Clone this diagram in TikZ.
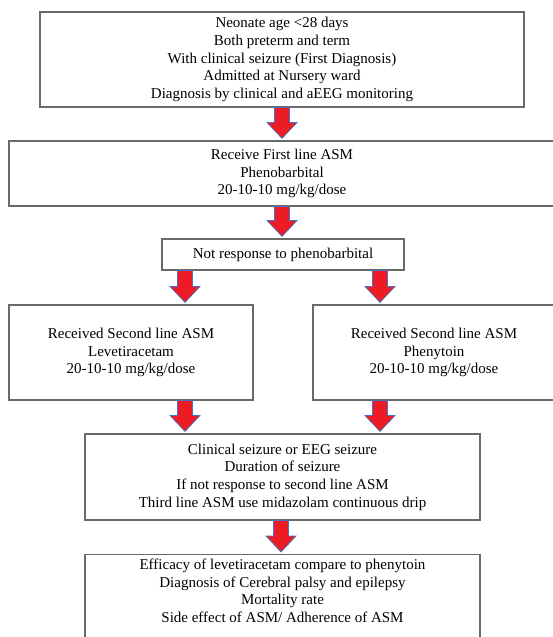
\documentclass[tikz,border=0pt]{standalone}
\usepackage{fontspec}
\setmainfont{Liberation Serif}
\usetikzlibrary{calc}
\definecolor{arrowred}{RGB}{237,28,36}
\definecolor{arrowblue}{RGB}{68,114,196}
\definecolor{boxgray}{RGB}{105,105,105}
\tikzset{
	stepbox/.style={draw=boxgray, line width=1.1pt, align=center, inner sep=0pt, font=\fontsize{15}{17.6}\selectfont},
	steptext/.style={align=center, inner sep=0pt, font=\fontsize{15}{17.6}\selectfont},
	redarrow/.style={fill=arrowred, draw=arrowblue, line width=0.7pt, line join=miter}
}
% block arrow from a box bottom (#1) to the next box top (#2)
\newcommand{\flowarrow}[2]{%
	\draw[redarrow] let \p1=#1, \p2=#2 in
		(\x1-7.5pt,\y1) -- (\x1+7.5pt,\y1) -- (\x1+7.5pt,\y2+18pt)
		-- (\x1+15pt,\y2+18pt) -- (\x1,\y2+2pt) -- (\x1-15pt,\y2+18pt)
		-- (\x1-7.5pt,\y2+18pt) -- cycle;}
\begin{document}
\begin{tikzpicture}[x=1pt, y=-1pt]
	\clip (0,0) rectangle (553,637);
	\fill[white] (0,0) rectangle (553,637);
	
	% boxes
	\node[stepbox, minimum width=484, minimum height=95] (intake) at (282,59.5)
		{Neonate age <28 days\\Both preterm and term\\With clinical seizure (First Diagnosis)\\Admitted at Nursery ward\\Diagnosis by clinical and aEEG monitoring};
	\node[stepbox, minimum width=546, minimum height=65] (firstline) at (282,173.5)
		{Receive First line ASM\\Phenobarbital\\20-10-10 mg/kg/dose};
	\node[stepbox, minimum width=242, minimum height=31] (noresp) at (283,254.5)
		{Not response to phenobarbital};
	\node[stepbox, minimum width=244, minimum height=95] (leve) at (131,352.5)
		{Received Second line ASM\\Levetiracetam\\20-10-10 mg/kg/dose};
	\node[stepbox, minimum width=242, minimum height=95] (pheny) at (434,352.5)
		{Received Second line ASM\\Phenytoin\\20-10-10 mg/kg/dose};
	\node[stepbox, minimum width=395, minimum height=86] (thirdline) at (282.5,477)
		{Clinical seizure or EEG seizure\\Duration of seizure\\If not response to second line ASM\\Third line ASM use midazolam continuous drip};
	\node[stepbox, minimum width=395, minimum height=110, anchor=north] (outcome) at (282.5,554) {};
	\node[steptext, anchor=north] (outcometext) at (282.5,559)
		{Efficacy of levetiracetam compare to phenytoin\\Diagnosis of Cerebral palsy and epilepsy\\Mortality rate\\Side effect of ASM/ Adherence of ASM};
	
	% arrows
	\flowarrow{(282,0 |- intake.south)}{(282,0 |- firstline.north)}
	\flowarrow{(282,0 |- firstline.south)}{(282,0 |- noresp.north)}
	\flowarrow{(185,0 |- noresp.south)}{(185,0 |- leve.north)}
	\flowarrow{(380,0 |- noresp.south)}{(380,0 |- pheny.north)}
	\flowarrow{(185,0 |- leve.south)}{(185,0 |- thirdline.north)}
	\flowarrow{(380,0 |- pheny.south)}{(380,0 |- thirdline.north)}
	\flowarrow{(281,0 |- thirdline.south)}{(281,0 |- outcome.north)}
	
\end{tikzpicture}
\end{document}
